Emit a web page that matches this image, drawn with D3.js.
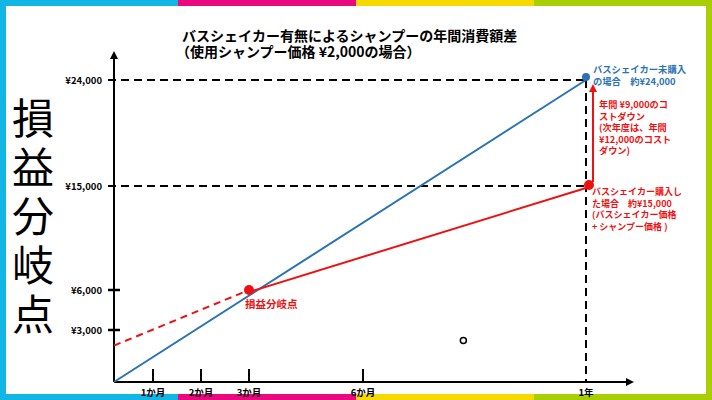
<!DOCTYPE html>
<html>
<head>
<meta charset="utf-8">
<script src="https://cdn.jsdelivr.net/npm/d3@7"></script>
<style>
  body { margin: 0; background: #fff; }
  svg { display: block; }
  text { font-family: "Noto Sans CJK JP", "DejaVu Sans", sans-serif; }
</style>
</head>
<body>
<div id="chart"></div>
<script>
// 損益分岐点チャート (バスシェイカー)

// ---- data ----
const titleLines = ["バスシェイカー有無によるシャンプーの年間消費額差", "（使用シャンプー価格 ¥2,000の場合）"];
const sideLabel = "損益分岐点";

// x: months, y: yen
const xTickMonths = [1, 2, 3, 6, 12];
const xTickLabels = ["1か月", "2か月", "3か月", "6か月", "1年"];
const yTickValues = [3000, 6000, 15000, 24000];
const yTickLabels = ["¥3,000", "¥6,000", "¥15,000", "¥24,000"];

// without shaker (blue)
const noShakerMonths = [0, 12];
const noShakerCost = [0, 24000];
// with shaker (red)
const shakerMonths = [3, 12];
const shakerCost = [6000, 15000];
// red dashed lead-in
const shakerLeadMonths = [0, 3];
const shakerLeadCost = [2100, 6000];

const breakEven = {month: 3, cost: 6000};
const strayMark = {month: 8.7, cost: 2400};

const noteBlue = ["バスシェイカー未購入", "の場合　約¥24,000"];
const noteSaving = ["年間 ¥9,000のコ", "ストダウン", "(次年度は、年間", "¥12,000のコスト", "ダウン)"];
const noteRed = ["バスシェイカー購入し", "た場合　約¥15,000", "(バスシェイカー価格", "+ シャンプー価格 )"];

// frame colours
const frameColors = ["#12b6e4", "#e9087f", "#f6d900", "#a7cf01"];

const W = 712, H = 400;
const BLUE = "#2a72b5", RED = "#ee1111";

const svg = d3.select("#chart").append("svg")
    .attr("width", W)
    .attr("height", H);

// ---- frame ----
const band = 6;
frameColors.forEach((c, i) => {
    svg.append("rect").attr("x", i * W / 4).attr("y", 0).attr("width", W / 4 + 0.5).attr("height", band).attr("fill", c);
    svg.append("rect").attr("x", i * W / 4).attr("y", H - band).attr("width", W / 4 + 0.5).attr("height", band).attr("fill", c);
});
svg.append("rect").attr("x", 0).attr("y", 0).attr("width", band).attr("height", H).attr("fill", frameColors[0]);
svg.append("rect").attr("x", W - band).attr("y", 0).attr("width", band).attr("height", H).attr("fill", frameColors[3]);

// ---- scales (the original axis is hand drawn, so stops are uneven) ----
const x = d3.scaleLinear()
    .domain([0, 1, 2, 3, 6, 12])
    .range([114, 153, 201, 249, 363, 586]);
const y = d3.scaleLinear()
    .domain([0, 3000, 6000, 15000, 24000])
    .range([382, 330, 290, 186, 80]);

const defs = svg.append("defs");
defs.append("marker")
    .attr("id", "arrowBlack")
    .attr("viewBox", "0 0 10 10")
    .attr("refX", 5).attr("refY", 5)
    .attr("markerWidth", 4).attr("markerHeight", 4)
    .attr("orient", "auto")
    .append("path").attr("d", "M0,0L10,5L0,10z").attr("fill", "#000");
defs.append("marker")
    .attr("id", "arrowRed")
    .attr("viewBox", "0 0 10 10")
    .attr("refX", 5).attr("refY", 5)
    .attr("markerWidth", 4).attr("markerHeight", 4)
    .attr("orient", "auto")
    .append("path").attr("d", "M0,0L10,5L0,10z").attr("fill", RED);

// multi-line text block as one <text> with tspans
function block(lines, x0, y0, step, color, size, x0s) {
    const t = svg.append("text")
        .attr("x", x0).attr("y", y0)
        .attr("fill", color)
        .attr("font-weight", "bold")
        .attr("font-size", size);
    t.selectAll("tspan")
        .data(lines)
        .join("tspan")
        .attr("x", (d, i) => x0s ? x0s[i] : x0)
        .attr("y", (d, i) => y0 + i * step)
        .text(d => d);
    return t;
}

// ---- title ----
block(titleLines, 182, 41, 16, "#000", 14, [182, 176]);

// ---- big side label (vertical) ----
svg.append("text")
    .attr("x", 33)
    .attr("y", 97)
    .attr("writing-mode", "vertical-rl")
    .attr("font-size", 42)
    .attr("letter-spacing", 7)
    .text(sideLabel);

// ---- guide dashes ----
const guides = svg.append("g")
    .attr("stroke", "#000")
    .attr("stroke-width", 2)
    .attr("stroke-dasharray", "8,5");
[15000, 24000].forEach(v => {
    guides.append("line")
        .attr("x1", x(0) - 6).attr("x2", x(12))
        .attr("y1", y(v)).attr("y2", y(v));
});
guides.append("line")
    .attr("x1", x(12)).attr("x2", x(12))
    .attr("y1", y(24000)).attr("y2", y(0));

// ---- axes ----
svg.append("line")
    .attr("x1", x(0)).attr("y1", y(0))
    .attr("x2", x(0)).attr("y2", 55)
    .attr("stroke", "#000").attr("stroke-width", 2)
    .attr("marker-end", "url(#arrowBlack)");
svg.append("line")
    .attr("x1", x(0)).attr("y1", y(0))
    .attr("x2", 630).attr("y2", y(0))
    .attr("stroke", "#000").attr("stroke-width", 2)
    .attr("marker-end", "url(#arrowBlack)");

// y ticks
svg.append("g").selectAll("line")
    .data(yTickValues.filter(v => v < 15000))
    .join("line")
    .attr("x1", x(0) - 6).attr("x2", x(0) + 6)
    .attr("y1", d => y(d)).attr("y2", d => y(d))
    .attr("stroke", "#000").attr("stroke-width", 2.5);
svg.append("g").selectAll("text")
    .data(yTickValues)
    .join("text")
    .attr("x", x(0) - 12)
    .attr("y", d => y(d) + 3.5)
    .attr("text-anchor", "end")
    .attr("font-family", "DejaVu Sans")
    .attr("font-weight", "bold")
    .attr("font-size", 9.5)
    .text((d, i) => yTickLabels[i]);

// x ticks
svg.append("g").selectAll("line")
    .data(xTickMonths.filter(m => m < 12))
    .join("line")
    .attr("x1", d => x(d)).attr("x2", d => x(d))
    .attr("y1", y(0) - 13).attr("y2", y(0))
    .attr("stroke", "#000").attr("stroke-width", 2);
svg.append("g").selectAll("text")
    .data(xTickMonths)
    .join("text")
    .attr("x", d => x(d))
    .attr("y", y(0) + 14)
    .attr("text-anchor", "middle")
    .attr("font-weight", "bold")
    .attr("font-size", 9.5)
    .text((d, i) => xTickLabels[i]);

// ---- series ----
const line = d3.line().x(d => x(d[0])).y(d => y(d[1]));

svg.append("path")
    .datum(d3.zip(noShakerMonths, noShakerCost))
    .attr("d", line)
    .attr("fill", "none").attr("stroke", BLUE).attr("stroke-width", 2);

svg.append("path")
    .datum(d3.zip(shakerLeadMonths, shakerLeadCost))
    .attr("d", line)
    .attr("fill", "none").attr("stroke", RED).attr("stroke-width", 2)
    .attr("stroke-dasharray", "7,5");

svg.append("path")
    .datum(d3.zip(shakerMonths, shakerCost))
    .attr("d", d3.line().x(d => x(d[0])).y(d => y(d[1]) + 2))
    .attr("fill", "none").attr("stroke", RED).attr("stroke-width", 2);

// end points
svg.append("circle")
    .attr("cx", x(12)).attr("cy", y(24000) - 3).attr("r", 4)
    .attr("fill", BLUE);
svg.append("circle")
    .attr("cx", x(12) + 3).attr("cy", y(15000) - 1).attr("r", 5)
    .attr("fill", RED);
svg.append("circle")
    .attr("cx", x(breakEven.month)).attr("cy", y(breakEven.cost)).attr("r", 5)
    .attr("fill", RED);

// saving arrow
svg.append("line")
    .attr("x1", x(12) + 7).attr("x2", x(12) + 7)
    .attr("y1", y(15000) - 4).attr("y2", y(24000) + 8)
    .attr("stroke", RED).attr("stroke-width", 2)
    .attr("marker-end", "url(#arrowRed)");

// stray circle
svg.append("circle")
    .attr("cx", x(strayMark.month)).attr("cy", y(strayMark.cost)).attr("r", 3)
    .attr("fill", "#fff").attr("stroke", "#000").attr("stroke-width", 1.5);

// ---- notes ----
block(noteBlue, 593, 73, 12, BLUE, 9.3);
block(noteSaving, 599, 108, 11.5, RED, 9.2);
block(noteRed, 592, 195, 11.5, RED, 9);

svg.append("text")
    .attr("x", x(breakEven.month) - 4)
    .attr("y", y(breakEven.cost) + 18)
    .attr("fill", RED)
    .attr("font-weight", "bold")
    .attr("font-size", 10.5)
    .text("損益分岐点");
</script>
</body>
</html>
